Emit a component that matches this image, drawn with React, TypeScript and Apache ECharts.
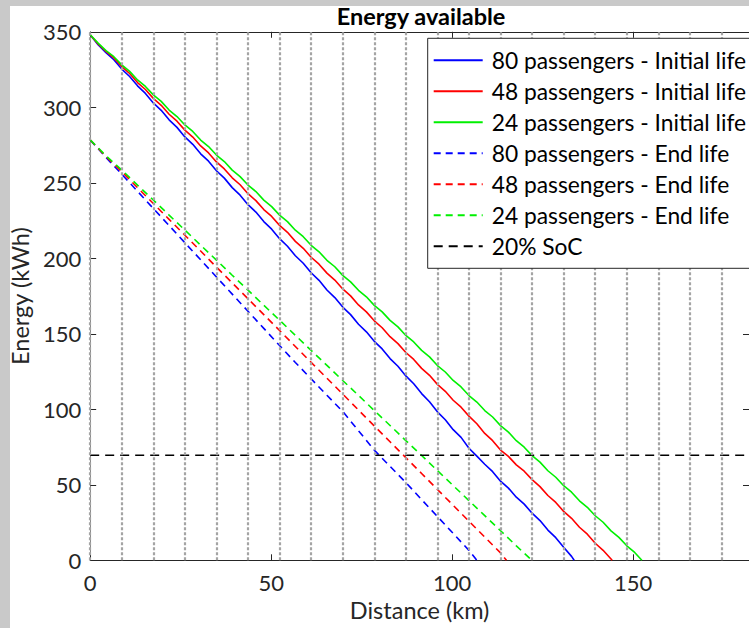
import React, { useEffect, useRef } from 'react';
import * as echarts from 'echarts';

// Distance grids (km) at which the curves were read
const DIST_FINE = [0, 2.18, 4.36, 6.54, 8.72, 10.9, 13.08, 15.26, 17.44, 19.62, 21.8, 23.98, 26.16, 28.34, 30.52, 32.7, 34.88, 37.06, 39.24, 41.42, 43.6, 45.78, 47.96, 50.14, 52.32, 54.5, 56.68, 58.86, 61.04, 63.22, 65.4, 67.58, 69.76, 71.94, 74.12, 76.3, 78.48, 80.66, 82.84, 85.02, 87.2, 89.38, 91.56, 93.74, 95.92, 98.1, 100.28, 102.46, 104.64, 106.82, 109, 111.18, 113.36, 115.54, 117.72, 119.9, 122.08, 124.26, 126.44, 128.62, 130.8, 132.98, 135.16, 137.34, 139.52, 141.7, 143.88, 146.06, 148.24, 150.42];
const DIST = [0, 4.36, 8.72, 13.08, 17.44, 21.8, 26.16, 30.52, 34.88, 39.24, 43.6, 47.96, 52.32, 56.68, 61.04, 65.4, 69.76, 74.12, 78.48, 82.84, 87.2, 91.56, 95.92, 100.28, 104.64, 109, 113.36, 117.72, 122.08, 126.44, 130.8, 135.16, 139.52, 143.88, 148.24];

// Bus stops (vertical dotted lines), km
const STOPS = [0, 8.72, 17.44, 26.16, 34.88, 43.6, 52.32, 61.04, 69.76, 78.48, 87.2, 95.92, 104.64, 113.36, 122.08, 130.8, 139.52, 148.24, 156.96, 165.68, 174.4];

// Energy (kWh) - initial life (read on DIST_FINE)
const BLUE_INIT = [348, 341.5, 336.2, 331.5, 325.3, 320.4, 314.2, 309.2, 302.9, 298.0, 291.7, 286.7, 280.4, 275.5, 269.2, 264.3, 258.0, 253.1, 246.8, 241.8, 235.5, 230.6, 224.3, 219.3, 213.0, 208.0, 201.7, 196.7, 190.4, 185.4, 179.0, 174.0, 167.7, 162.7, 156.3, 151.3, 145.0, 140.0, 133.6, 128.5, 122.1, 116.9, 110.4, 105.0, 98.3, 93.1, 86.5, 81.4, 74.2, 69.0, 63.6, 58.7, 52.4, 47.8, 41.8, 37.2, 31.2, 26.3, 20.0, 15.0, 8.6, 2.6];
const BLUE_INIT_END = 133.7;
const RED_INIT = [348, 342.0, 337.0, 332.7, 327.0, 322.4, 316.4, 311.8, 305.9, 301.3, 295.4, 290.8, 284.9, 280.3, 274.4, 269.8, 263.8, 259.2, 253.3, 248.7, 242.8, 238.2, 232.3, 227.7, 221.8, 217.2, 211.2, 206.6, 200.7, 196.1, 190.2, 185.6, 179.7, 175.1, 169.1, 164.5, 158.6, 154.0, 148.1, 143.5, 137.6, 133.0, 127.1, 122.5, 116.5, 111.9, 106.0, 101.4, 95.5, 90.4, 84.0, 79.2, 73.0, 68.8, 63.2, 59.0, 53.4, 48.8, 42.9, 38.3, 32.4, 27.8, 21.9, 17.3, 11.3, 6.6];
const RED_INIT_END = 144.2;
const GREEN_INIT = [348, 342.5, 337.5, 333.5, 328.1, 323.8, 318.1, 313.8, 308.2, 303.9, 298.2, 293.9, 288.3, 284.0, 278.3, 274.0, 268.4, 264.1, 258.4, 254.1, 248.5, 244.2, 238.5, 234.2, 228.6, 224.3, 218.6, 214.3, 208.6, 204.3, 198.7, 194.4, 188.7, 184.4, 178.8, 174.5, 168.8, 164.5, 158.9, 154.6, 148.9, 144.6, 139.0, 134.7, 129.0, 124.7, 119.1, 114.8, 109.1, 104.8, 99.2, 94.9, 89.2, 84.9, 79.2, 74.9, 69.3, 65.0, 59.3, 55.0, 49.4, 45.1, 39.4, 35.1, 29.5, 25.2, 19.5, 15.2, 9.6, 5.2];
const GREEN_INIT_END = 152.4;

// Energy (kWh) - end of life (read on DIST)
const BLUE_END = [278.4, 266.8, 255.7, 244.4, 233.0, 221.7, 210.3, 199.0, 187.6, 176.3, 164.9, 153.6, 142.2, 131.0, 120.2, 109.3, 98.6, 85.8, 73.0, 62.2, 51.5, 40.2, 29.0, 17.8, 6.6];
const BLUE_END_END = 106.8;
const RED_END = [278.4, 267.4, 257.4, 246.8, 236.3, 225.8, 215.3, 204.8, 194.2, 183.7, 173.2, 162.7, 152.2, 141.6, 131.1, 120.6, 110.1, 99.5, 89.0, 78.5, 68.0, 57.5, 46.9, 36.4, 25.9, 15.4, 4.9];
const RED_END_END = 115.0;
const GREEN_END = [278.4, 267.9, 258.5, 248.5, 238.6, 228.6, 218.7, 208.7, 198.8, 188.8, 178.9, 168.9, 159.0, 149.0, 139.0, 129.1, 119.1, 109.2, 99.2, 89.3, 79.3, 69.4, 59.4, 49.5, 39.5, 29.6, 19.6, 9.6];
const GREEN_END_END = 122.0;

const SOC20 = 69.6;
const X_MAX = 182;
const Y_MAX = 350;

const NAMES = [
  '80 passengers - Initial life',
  '48 passengers - Initial life',
  '24 passengers - Initial life',
  '80 passengers - End life',
  '48 passengers - End life',
  '24 passengers - End life',
  '20% SoC',
];

const FONT = 'Lato';
const AX = '#262626';

const defs = [
  { name: NAMES[0], x: DIST_FINE, v: BLUE_INIT, end: BLUE_INIT_END, color: '#0000ff', dashed: false },
  { name: NAMES[1], x: DIST_FINE, v: RED_INIT, end: RED_INIT_END, color: '#ff0000', dashed: false },
  { name: NAMES[2], x: DIST_FINE, v: GREEN_INIT, end: GREEN_INIT_END, color: '#00f000', dashed: false },
  { name: NAMES[3], x: DIST, v: BLUE_END, end: BLUE_END_END, color: '#0000ff', dashed: true },
  { name: NAMES[4], x: DIST, v: RED_END, end: RED_END_END, color: '#ff0000', dashed: true },
  { name: NAMES[5], x: DIST, v: GREEN_END, end: GREEN_END_END, color: '#00f000', dashed: true },
];

export default function App() {
  const ref = useRef<HTMLDivElement>(null);
  useEffect(() => {
    const chart = echarts.init(ref.current!, null, { renderer: 'svg' });
    const series: any[] = defs.map((d) => ({
      type: 'line',
      name: d.name,
      symbol: 'none',
      showSymbol: false,
      z: 2,
      data: d.v.map((e, i) => [d.x[i], e]).concat([[d.end, 0]]),
      lineStyle: { color: d.color, width: 1.6, type: d.dashed ? [7, 5] : 'solid' },
      itemStyle: { color: d.color },
      emphasis: { disabled: true },
    }));
    series.push({
      type: 'line',
      name: NAMES[6],
      symbol: 'none',
      showSymbol: false,
      z: 2,
      data: [[0, SOC20], [X_MAX, SOC20]],
      lineStyle: { color: '#000', width: 1.6, type: [9, 6] },
      itemStyle: { color: '#000' },
      emphasis: { disabled: true },
    });
    series.push({
      type: 'line',
      name: 'stops',
      data: [],
      symbol: 'none',
      markLine: {
        silent: true,
        z: 3,
        symbol: ['none', 'none'],
        label: { show: false },
        emphasis: { disabled: true },
        lineStyle: { color: '#a4a4a4', width: 2.2, type: [3, 2] },
        data: STOPS.map((s) => ({ xAxis: s })),
      },
    });
    const axisCommon = {
      axisTick: { show: true, inside: true, length: 6, lineStyle: { color: AX } },
      splitLine: { show: false },
    };
    const line = (color: string) => ({ show: true, onZero: false, lineStyle: { color, width: 1 } });
    chart.setOption({
      animation: false,
      backgroundColor: '#c9c9c9',
      graphic: [
        { type: 'rect', z: -10, shape: { x: 10, y: 6, width: 739, height: 622 }, style: { fill: '#ffffff' }, silent: true },
      ],
      title: {
        text: 'Energy available',
        left: 421,
        top: 2,
        padding: 0,
        textAlign: 'center',
        textStyle: { fontFamily: FONT, fontWeight: 'bold', fontSize: 23.5, color: '#000', lineHeight: 28 },
      },
      legend: {
        orient: 'vertical',
        left: 427.7,
        top: 38.3,
        z: 10,
        data: NAMES,
        itemWidth: 49,
        itemHeight: 14,
        itemGap: 7,
        padding: [10, 20, 10, 5],
        borderColor: AX,
        borderWidth: 1,
        backgroundColor: '#fff',
        selectedMode: false,
        itemStyle: { color: 'rgba(0,0,0,0)', borderWidth: 0, opacity: 0 },
        textStyle: { fontFamily: FONT, fontSize: 22.8, color: '#000', lineHeight: 24, padding: [0, 0, 0, 4] },
      },
      grid: { left: 88.7, top: 31.8, width: 663.4, height: 528.5, containLabel: false },
      xAxis: [
        {
          type: 'value', min: 0, max: X_MAX, interval: 50, position: 'bottom', ...axisCommon,
          axisLine: line(AX),
          axisLabel: { color: AX, fontFamily: FONT, fontSize: 22, margin: 11, showMaxLabel: false },
          name: 'Distance (km)', nameLocation: 'middle', nameGap: 35,
          nameTextStyle: { color: AX, fontFamily: FONT, fontSize: 23.5 },
        },
        { type: 'value', min: 0, max: X_MAX, interval: 50, position: 'top', ...axisCommon, axisLine: line(AX), axisLabel: { show: false } },
      ],
      yAxis: [
        {
          type: 'value', min: 0, max: Y_MAX, interval: 50, position: 'left', ...axisCommon,
          axisLine: line('#8a8a8a'),
          axisLabel: { color: AX, fontFamily: FONT, fontSize: 22, margin: 9 },
          name: 'Energy (kWh)', nameLocation: 'middle', nameGap: 54,
          nameTextStyle: { color: AX, fontFamily: FONT, fontSize: 23.5 },
        },
        { type: 'value', min: 0, max: Y_MAX, interval: 50, position: 'right', ...axisCommon, axisLine: line(AX), axisLabel: { show: false } },
      ],
      series,
    });
    return () => chart.dispose();
  }, []);
  return <div ref={ref} style={{ position: 'fixed', left: 0, top: 0, width: 749, height: 628 }} />;
}
